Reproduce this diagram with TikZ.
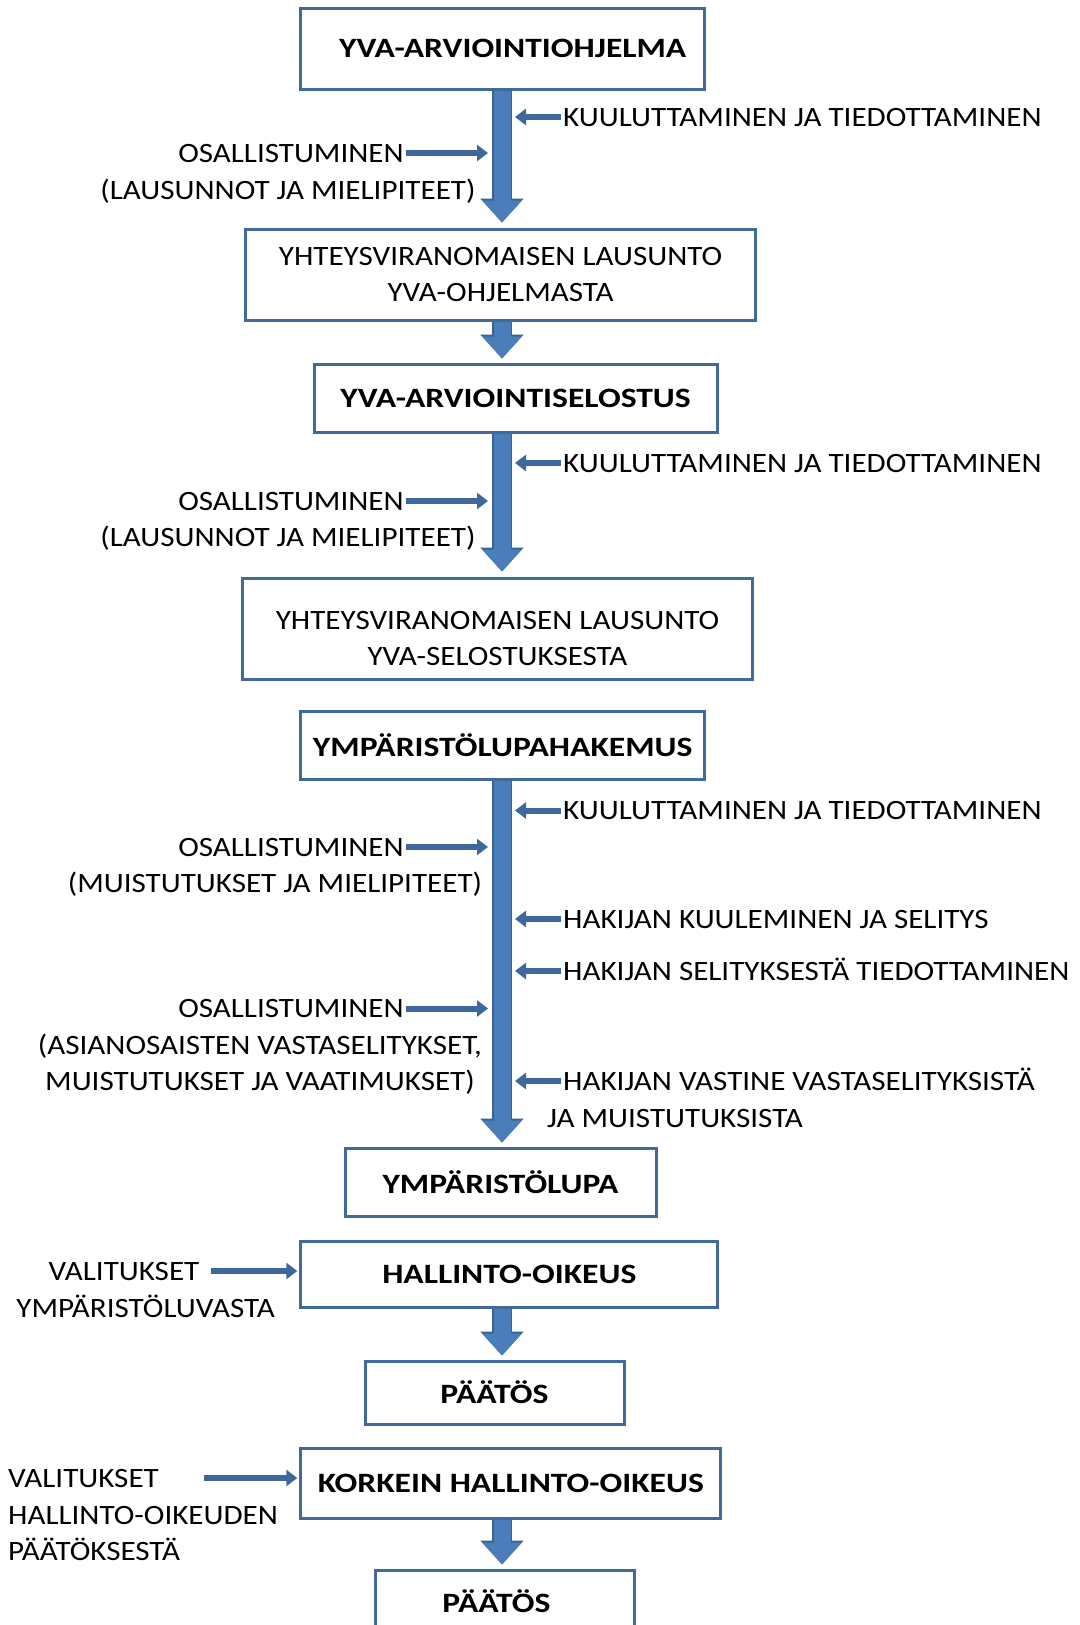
\documentclass[tikz,border=0pt]{standalone}
\usepackage{fontspec}
\setmainfont{Carlito}[FakeStretch=1.11, BoldFeatures={FakeStretch=1.2}]
\usetikzlibrary{arrows.meta}

\definecolor{boxblue}{HTML}{41699B}
\definecolor{arrowfill}{HTML}{4A7DBA}
\definecolor{arrowline}{HTML}{3A6394}
\definecolor{smallblue}{HTML}{3E679C}
\newcommand\lblfont{\fontsize{28}{36}\selectfont}

\begin{document}
\begin{tikzpicture}[x=1pt, y=1pt,
      box/.style={rectangle, draw=boxblue, line width=3pt, fill=white, inner sep=0pt,
                  align=center, font=\lblfont},
      bold/.style={box, font=\lblfont\bfseries},
      lbl/.style={font=\lblfont, inner sep=2pt, text height=18pt, text depth=0pt},
      bigarrow/.style={draw=arrowfill, line width=17pt, -{Triangle[length=22pt,width=38pt]},
                  preaction={draw=arrowline, line width=20pt, -{Triangle[length=24pt,width=42pt]}}},
      smallarrow/.style={draw=smallblue, line width=6pt, -{Triangle[length=11pt,width=16pt]}}]
      \useasboundingbox (0,0) rectangle (1079,-1625);
      \coordinate (axis) at (502,0);

      % boxes
      \node[bold, minimum width=404pt, minimum height=81pt] (prog) at (502.7,-48.7) {\hspace*{20pt}YVA-ARVIOINTIOHJELMA};
      \node[box,  minimum width=510pt, minimum height=91pt] (lprog) at (500.6,-274.5) {YHTEYSVIRANOMAISEN LAUSUNTO\\YVA-OHJELMASTA};
      \node[bold, minimum width=403pt, minimum height=68pt] (selo) at (515.5,-398) {YVA-ARVIOINTISELOSTUS};
      \node[box,  minimum width=510pt, minimum height=101pt] (lselo) at (497.5,-628.5) {\rule{0pt}{38pt}YHTEYSVIRANOMAISEN LAUSUNTO\\YVA-SELOSTUKSESTA};
      \node[bold, minimum width=404pt, minimum height=68pt] (hake) at (502.7,-745) {YMPÄRISTÖLUPAHAKEMUS};
      \node[bold, minimum width=311pt, minimum height=68pt] (lupa) at (500.5,-1182) {YMPÄRISTÖLUPA};
      \node[bold, minimum width=417pt, minimum height=66pt] (hao) at (509.3,-1274) {HALLINTO-OIKEUS};
      \node[bold, minimum width=259pt, minimum height=63pt] (paat1) at (494.5,-1392.5) {PÄÄTÖS};
      \node[bold, minimum width=420pt, minimum height=70pt] (kho) at (510.8,-1483) {KORKEIN HALLINTO-OIKEUS};
      \node[bold, minimum width=259pt, minimum height=63pt] (paat2) at (504.5,-1601.5) {PÄÄTÖS\hspace*{16pt}};

      % main flow
      \draw[bigarrow, shorten >=5pt] (prog.south -| axis) -- (lprog.north -| axis);
      \draw[bigarrow, shorten >=4pt] (lprog.south -| axis) -- (selo.north -| axis);
      \draw[bigarrow, shorten >=5pt] (selo.south -| axis) -- (lselo.north -| axis);
      \draw[bigarrow, shorten >=4pt] (hake.south -| axis) -- (lupa.north -| axis);
      \draw[bigarrow, shorten >=4pt] (hao.south -| axis) -- (paat1.north -| axis);
      \draw[bigarrow, shorten >=4pt] (kho.south -| axis) -- (paat2.north -| axis);

      % right side labels
      \node[lbl, anchor=west] (kuul1) at (561,-117) {KUULUTTAMINEN JA TIEDOTTAMINEN};
      \node[lbl, anchor=west] (kuul2) at (561,-463) {KUULUTTAMINEN JA TIEDOTTAMINEN};
      \node[lbl, anchor=west] (kuul3) at (561,-810.5) {KUULUTTAMINEN JA TIEDOTTAMINEN};
      \node[lbl, anchor=west] (hak1) at (561,-919) {HAKIJAN KUULEMINEN JA SELITYS};
      \node[lbl, anchor=west] (hak2) at (561,-971) {HAKIJAN SELITYKSESTÄ TIEDOTTAMINEN};
      \node[lbl, anchor=west] (hak3) at (561,-1081) {HAKIJAN VASTINE VASTASELITYKSISTÄ};
      \node[lbl, anchor=west] (hak3b) at (545,-1118) {JA MUISTUTUKSISTA};
      \foreach \n in {kuul1,kuul2,kuul3,hak1,hak2,hak3}
        \draw[smallarrow, shorten >=13pt] (\n) -- (\n -| axis);

      % left side labels
      \node[lbl] (osal1) at (291,-153) {OSALLISTUMINEN};
      \node[lbl] (lausu1) at (288,-190) {(LAUSUNNOT JA MIELIPITEET)};
      \node[lbl] (osal2) at (291,-501) {OSALLISTUMINEN};
      \node[lbl] (lausu2) at (288,-537) {(LAUSUNNOT JA MIELIPITEET)};
      \node[lbl] (osal3) at (291,-847) {OSALLISTUMINEN};
      \node[lbl] (muist) at (275,-883) {(MUISTUTUKSET JA MIELIPITEET)};
      \node[lbl] (osal4) at (291,-1008.5) {OSALLISTUMINEN};
      \node[lbl] (asian) at (260,-1045) {(ASIANOSAISTEN VASTASELITYKSET,};
      \node[lbl] (vaat) at (260,-1081) {MUISTUTUKSET JA VAATIMUKSET)};
      \foreach \n in {osal1,osal2,osal3,osal4}
        \draw[smallarrow, shorten >=14pt] (\n) -- (\n -| axis);

      % appeals
      \node[lbl] (val1) at (124,-1271) {VALITUKSET};
      \node[lbl] (val1b) at (145.6,-1308) {YMPÄRISTÖLUVASTA};
      \node[lbl, anchor=west] (val2) at (6,-1478) {VALITUKSET};
      \node[lbl, anchor=west] (val2b) at (6,-1515) {HALLINTO-OIKEUDEN};
      \node[lbl, anchor=west] (val2c) at (6,-1551) {PÄÄTÖKSESTÄ};
      \draw[smallarrow, shorten <=9pt, shorten >=2pt] (val1) -- (val1 -| hao.west);
      \draw[smallarrow, shorten <=43pt, shorten >=2pt] (val2) -- (val2 -| kho.west);
    \end{tikzpicture}
\end{document}
